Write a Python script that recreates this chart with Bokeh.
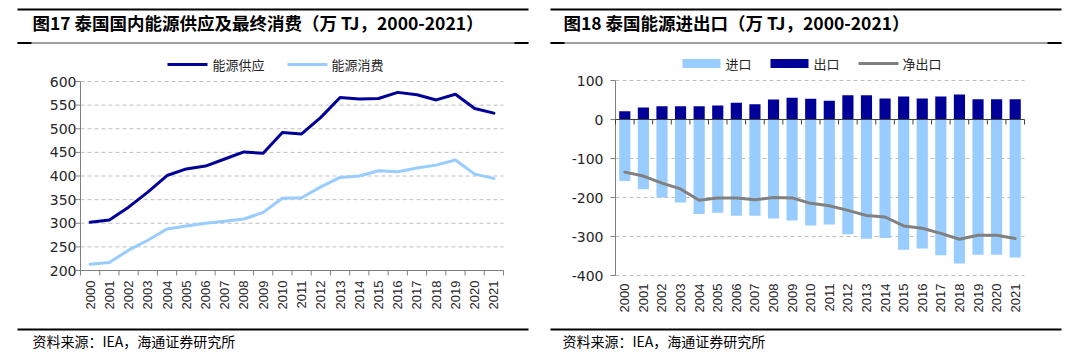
import math
from bokeh.plotting import figure
from bokeh.models import Range1d
from bokeh.core.properties import value
from bokeh.embed import file_html
from bokeh.resources import INLINE

# ---------------- data ----------------
years = ["2000", "2001", "2002", "2003", "2004", "2005", "2006", "2007", "2008", "2009", "2010",
         "2011", "2012", "2013", "2014", "2015", "2016", "2017", "2018", "2019", "2020", "2021"]

supply = [302, 307, 334, 366, 401, 415, 421, 436, 451, 448, 492,
          489, 524, 566, 563, 564, 577, 572, 561, 573, 543, 533]
consumption = [213, 217, 243, 264, 288, 294, 300, 304, 309, 323, 353,
               354, 377, 397, 400, 411, 409, 417, 423, 434, 404, 395]

exports = [21, 31, 34, 34, 34, 36, 43, 39, 51, 56, 53,
           48, 62, 62, 54, 59, 54, 59, 64, 52, 52, 52]
imports = [-158, -179, -200, -213, -242, -239, -247, -247, -254, -259, -272,
           -269, -294, -306, -304, -334, -331, -348, -369, -347, -347, -354]
net_exports = [-135, -145, -163, -178, -207, -201, -201, -206, -200, -201, -215,
               -221, -233, -246, -250, -273, -279, -292, -307, -297, -297, -305]

left_yticks = [200, 250, 300, 350, 400, 450, 500, 550, 600]
right_yticks = [-400, -300, -200, -100, 0, 100]

title_left = "图17 泰国国内能源供应及最终消费（万 TJ，2000-2021）"
title_right = "图18 泰国能源进出口（万 TJ，2000-2021）"
source_text = "资料来源：IEA，海通证券研究所"
legend_left = ["能源供应", "能源消费"]
legend_right = ["进口", "出口", "净出口"]

# ---------------- style ----------------
NAVY = "#000099"
LIGHT = "#99CCFF"
GRAY = "#808080"
AXIS = "#808080"
ZERO = "#404040"
GRID_C = "#BFBFBF"
TXT = "#262626"
CJK = "Noto Sans CJK SC"
LAT = "Liberation Sans"
YFONT = "DejaVu Sans"
CW, CH = 1080, 361

n = len(years)
xi = list(range(n))
x_lo, x_hi = -0.5, n - 0.5
bounds = [i - 0.5 for i in range(n + 1)]

# page canvas in pixel coordinates (y downwards)
p = figure(width=CW, height=CH, x_range=Range1d(0, CW), y_range=Range1d(CH, 0),
           x_axis_type=None, y_axis_type=None, title=None,
           output_backend="svg", toolbar_location=None, min_border=0)
p.outline_line_color = None
p.background_fill_color = "white"
p.border_fill_color = "white"
p.grid.visible = False

# chart frames (pixel boxes) -> scales for each chart
FRAMES = {"L": (80, 503, 81, 270, (x_lo, x_hi), (200, 600)),
          "R": (615, 1024, 80, 275, (x_lo, x_hi), (-400, 100))}
ex, ey, UNITS = {}, {}, {}
for k, (fl, fr, ft, fb, xr, yr) in FRAMES.items():
    ux = (xr[1] - xr[0]) / (fr - fl)
    uy = (yr[1] - yr[0]) / (fb - ft)
    ex[k] = Range1d(xr[0] - fl * ux, xr[1] + (CW - fr) * ux)
    ey[k] = Range1d(yr[0] - (CH - fb) * uy, yr[1] + ft * uy)
    UNITS[k] = (ux, uy)
p.extra_x_ranges = ex
p.extra_y_ranges = ey


def on(k):
    return dict(x_range_name=k, y_range_name=k)


def txt(x, y, s, size, color="black", bold=False, align="left", font=CJK, angle=0.0, **kw):
    p.text(x=x, y=y, text=s, text_font=value(font), text_font_size=value(size),
           text_font_style=value("bold" if bold else "normal"), text_color=color,
           text_align=value(align), text_baseline=value("middle"), angle=angle, **kw)


def yaxis(k, ticks, label_gap):
    ux, uy = UNITS[k]
    yr = FRAMES[k][5]
    m = len(ticks)
    # dashed horizontal gridlines across the chart frame only
    p.segment(x0=[x_lo] * m, y0=ticks, x1=[x_hi] * m, y1=ticks, line_color=GRID_C,
              line_dash="4 3", line_width=1, **on(k))
    p.segment(x0=[x_lo], y0=[yr[0]], x1=[x_lo], y1=[yr[1]], line_color=AXIS, line_width=1, **on(k))
    p.segment(x0=[x_lo - 5 * ux] * m, y0=ticks, x1=[x_lo] * m, y1=ticks,
              line_color=AXIS, line_width=1, **on(k))
    txt([x_lo - label_gap * ux] * m, ticks, [str(t) for t in ticks], "14px",
        color=TXT, align="right", font=YFONT, **on(k))


def xlabels(k, y_base, gap):
    ux, uy = UNITS[k]
    txt(xi, [y_base - gap * uy] * n, years, "13px", color=TXT, align="right",
        font=LAT, angle=math.pi / 2, **on(k))


# ---------------- left chart ----------------
uxL, uyL = UNITS["L"]
yaxis("L", left_yticks, 4)
p.segment(x0=[x_lo], y0=[200], x1=[x_hi], y1=[200], line_color=AXIS, line_width=1, **on("L"))
p.segment(x0=bounds, y0=[200] * len(bounds), x1=bounds, y1=[200 - 5 * uyL] * len(bounds),
          line_color=AXIS, line_width=1, **on("L"))
xlabels("L", 200, 10)
p.line(xi, consumption, line_color=LIGHT, line_width=3, line_join="round", line_cap="round", **on("L"))
p.line(xi, supply, line_color=NAVY, line_width=3, line_join="round", line_cap="round", **on("L"))

# ---------------- right chart ----------------
uxR, uyR = UNITS["R"]
yaxis("R", right_yticks, 12)
p.vbar(x=xi, top=[0] * n, bottom=imports, width=0.6, fill_color=LIGHT, line_color=None, **on("R"))
p.vbar(x=xi, top=exports, bottom=[0] * n, width=0.6, fill_color=NAVY, line_color=None, **on("R"))
p.segment(x0=[x_lo], y0=[0], x1=[x_hi], y1=[0], line_color=ZERO, line_width=1, **on("R"))
p.segment(x0=bounds, y0=[0] * len(bounds), x1=bounds, y1=[-5 * uyR] * len(bounds),
          line_color=ZERO, line_width=1, **on("R"))
xlabels("R", -400, 8)
p.line(xi, net_exports, line_color=GRAY, line_width=3, line_join="round", line_cap="round", **on("R"))

# ---------------- titles, rules, sources (pixel coordinates) ----------------
for (x0, x1, tx, title, sx) in [(17, 528, 32, title_left, 32), (550, 1061, 563, title_right, 562)]:
    p.segment(x0=[x0], y0=[9], x1=[x1], y1=[9], line_color="black", line_width=2)
    p.segment(x0=[x0], y0=[42.5], x1=[x1], y1=[42.5], line_color=GRAY, line_width=1.5)
    p.segment(x0=[x0, x1 - 14], y0=[42.5, 42.5], x1=[x0 + 14, x1], y1=[42.5, 42.5],
              line_color="black", line_width=2)
    txt([tx], [22], [title], "17.5px", bold=True)
    p.segment(x0=[x0], y0=[329], x1=[x1], y1=[329], line_color="black", line_width=2)
    txt([sx], [340], [source_text], "14px")

# ---------------- legends ----------------
p.segment(x0=[167], y0=[64], x1=[207], y1=[64], line_color=NAVY, line_width=3)
txt([212], [64], [legend_left[0]], "13px", color=TXT)
p.segment(x0=[287], y0=[64], x1=[327], y1=[64], line_color=LIGHT, line_width=3)
txt([331], [64], [legend_left[1]], "13px", color=TXT)

p.quad(left=[682], right=[720], top=[58.5], bottom=[67.5], fill_color=LIGHT, line_color=None)
txt([725], [63], [legend_right[0]], "13px", color=TXT)
p.quad(left=[770], right=[808], top=[58.5], bottom=[67.5], fill_color=NAVY, line_color=None)
txt([813], [63], [legend_right[1]], "13px", color=TXT)
p.segment(x0=[858], y0=[63], x1=[898], y1=[63], line_color=GRAY, line_width=3)
txt([902], [63], [legend_right[2]], "13px", color=TXT)

open("out.html", "w").write(file_html(p, INLINE))
